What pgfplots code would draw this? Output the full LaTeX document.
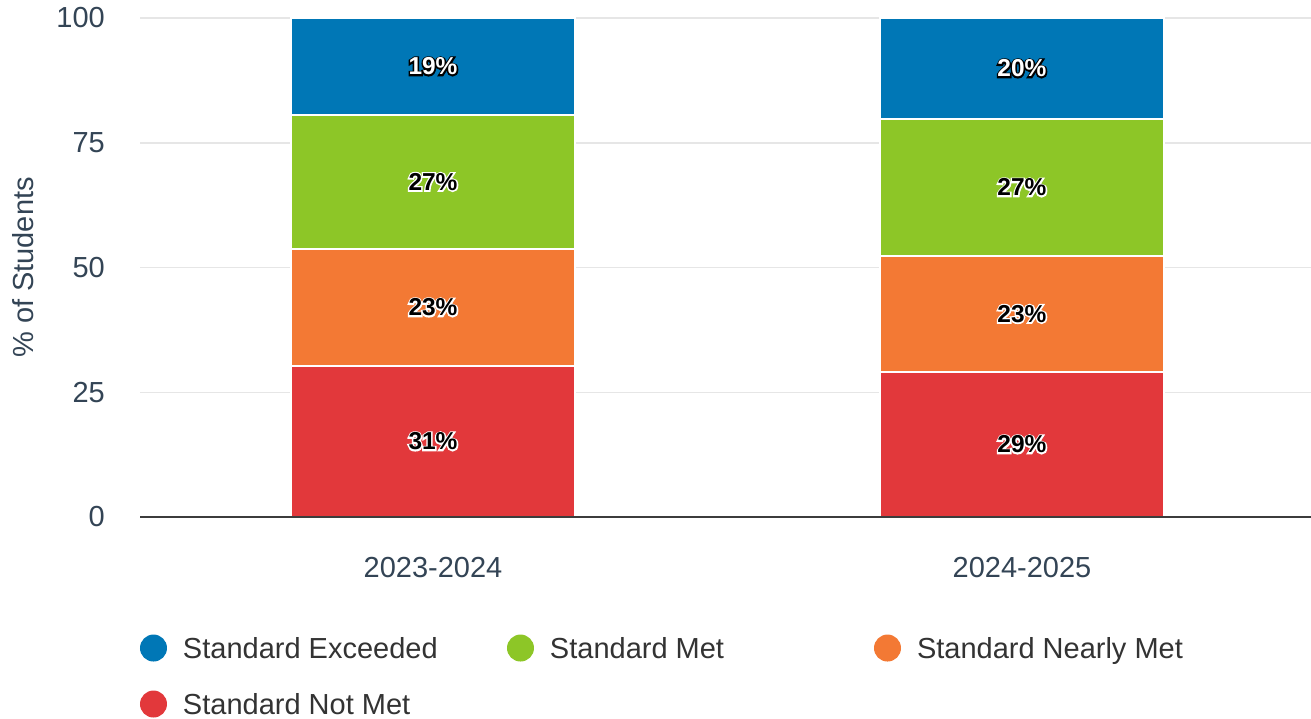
\documentclass[border=0pt]{standalone}
\usepackage{fontspec}
\setmainfont{Liberation Sans}
\newfontfamily\strokefont[FakeBold=12]{Liberation Sans Bold}
\newfontfamily\fillfont{Liberation Sans Bold}
\usepackage{pgfplots}
\pgfplotsset{compat=1.18}
\definecolor{cBlue}{RGB}{0,119,182}
\definecolor{cGreen}{RGB}{141,198,39}
\definecolor{cOrange}{RGB}{243,121,52}
\definecolor{cRed}{RGB}{226,56,59}
\definecolor{tickcol}{RGB}{51,68,85}
\definecolor{legcol}{RGB}{51,51,51}
\definecolor{gridcol}{RGB}{230,230,230}
\definecolor{axcol}{RGB}{60,60,60}
\newcommand\outl[3]{{\fontsize{24.5}{29}\selectfont\rlap{\strokefont\textcolor{#1}{#3}}\fillfont\textcolor{#2}{#3}}}
\begin{document}
\begin{tikzpicture}
\begin{axis}[
  scale only axis, width=1171pt, height=499pt,
  xmin=-0.4975, xmax=1.4907, ymin=0, ymax=100,
  ybar stacked, bar width=284pt,
  axis line style={draw=none}, tick style={draw=none}, major tick length=0pt,
  xtick={0,1}, xticklabels={2023-2024,2024-2025},
  ytick={0,25,50,75,100},
  ymajorgrids, grid style={gridcol, line width=1.5pt},
  /pgf/number format/assume math mode=true,
  ticklabel style={font=\fontsize{29}{34}\selectfont, text=tickcol, inner sep=0pt},
  yticklabel style={xshift=-35pt},
  xticklabel style={yshift=-40pt},
  ylabel={\% of Students},
  every axis y label/.style={at={(axis description cs:-0.0999,0.5)}, rotate=90, anchor=center, inner sep=0pt, font=\fontsize{29}{34}\selectfont, text=tickcol},
  reverse legend,
  legend columns=3,
  legend cell align=left,
  legend image code/.code={\fill[#1, draw=none] (13.5pt,0pt) circle (13.5pt);},
  legend style={at={(axis description cs:0,-0.2355)}, anchor=north west, draw=none, fill=none,
    inner sep=0pt, outer sep=0pt, row sep=29pt,
    nodes={inner sep=0pt, text depth=0pt},
    font=\fontsize{29}{34}\selectfont, text=legcol,
    /tikz/every odd column/.append style={column sep=16pt},
    /tikz/every even column/.append style={column sep=0pt}},
]
\addplot[fill=cRed, draw=white, line width=2pt] coordinates {(0,30.3) (1,29.1)};
\addlegendentry{\makebox[324pt][l]{Standard Not Met}}
\addplot[fill=cOrange, draw=white, line width=2pt] coordinates {(0,23.4) (1,23.2)};
\addlegendentry{\makebox[324pt][l]{Standard Nearly Met}}
\addplot[fill=cGreen, draw=white, line width=2pt] coordinates {(0,26.9) (1,27.5)};
\addlegendentry{\makebox[324pt][l]{Standard Met}}
\addplot[fill=cBlue, draw=white, line width=2pt] coordinates {(0,19.4) (1,20.2)};
\addlegendentry{\makebox[324pt][l]{Standard Exceeded}}
\coordinate (BL) at (rel axis cs:0,0);
\coordinate (TR) at (rel axis cs:1,1);
\end{axis}
\begin{axis}[
  scale only axis, width=1171pt, height=499pt,
  xmin=-0.4975, xmax=1.4907, ymin=0, ymax=100,
  hide axis, clip=false]
\draw[axcol, line width=2pt] (rel axis cs:0,0) -- (rel axis cs:1,0);
\addplot[draw=none, mark=none, point meta=explicit symbolic,
  nodes near coords={\outl{black}{white}{\pgfplotspointmeta\%}},
  every node near coord/.append style={anchor=center, inner sep=0pt}]
  coordinates {(0,90.3)[19] (1,89.9)[20]};
\addplot[draw=none, mark=none, point meta=explicit symbolic,
  nodes near coords={\outl{white}{black}{\pgfplotspointmeta\%}},
  every node near coord/.append style={anchor=center, inner sep=0pt}]
  coordinates {(0,15.15)[31] (0,42.0)[23] (0,67.15)[27] (1,14.55)[29] (1,40.7)[23] (1,66.05)[27]};
\end{axis}
\pgfresetboundingbox
\path[use as bounding box] ([xshift=-140pt,yshift=-201pt]BL) rectangle ([yshift=18pt]TR);
\end{tikzpicture}
\end{document}
